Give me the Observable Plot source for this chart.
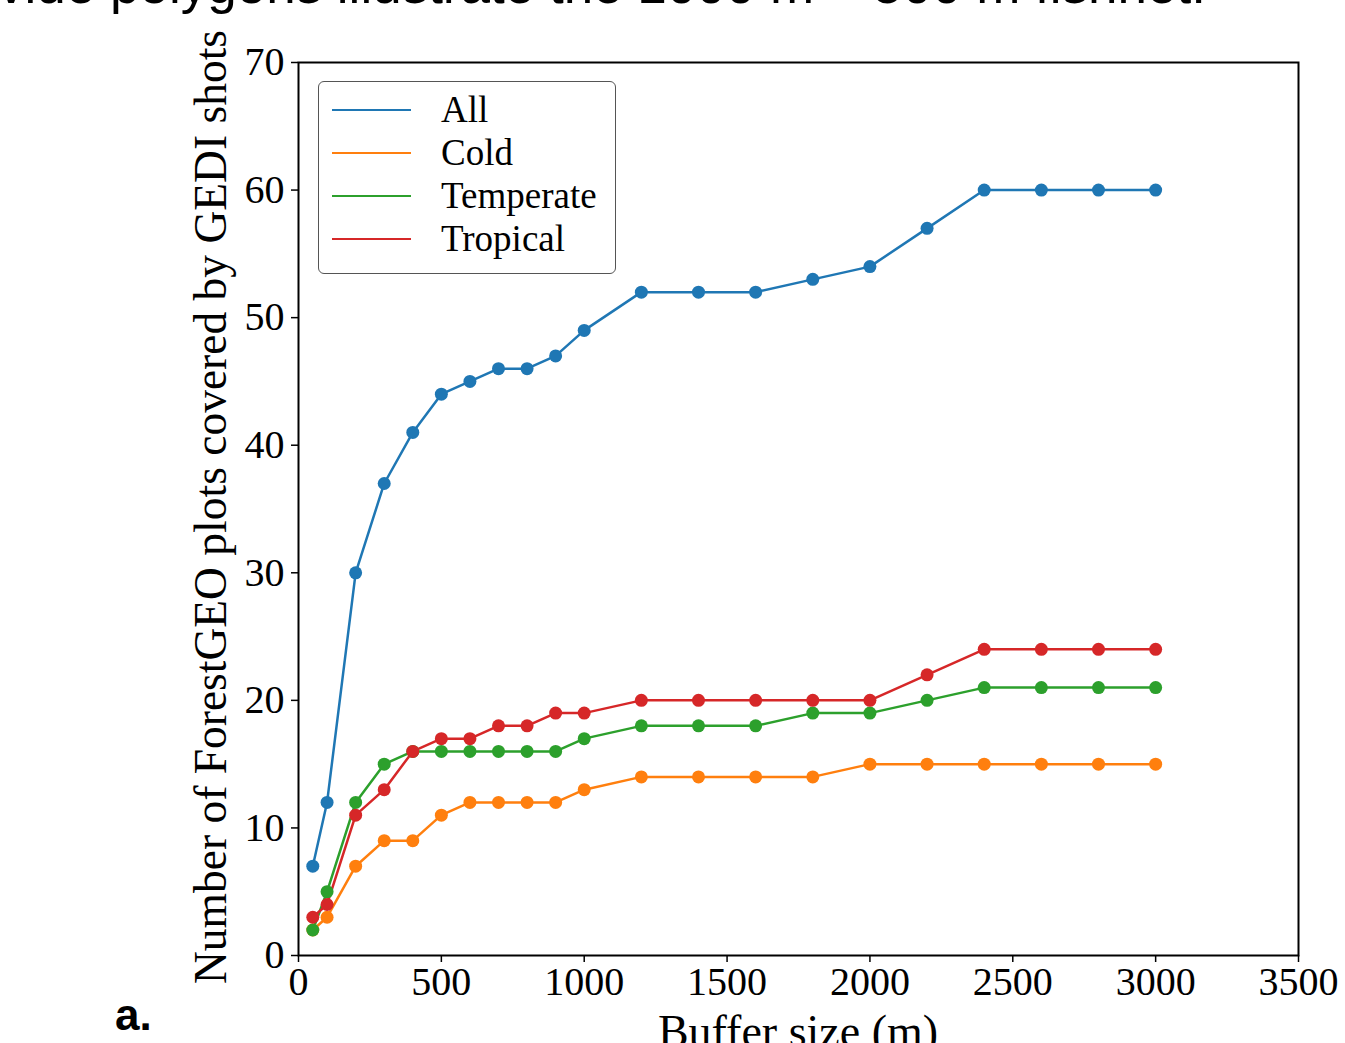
<!DOCTYPE html>
<html>
<head>
<meta charset="utf-8">
<script src="https://cdn.jsdelivr.net/npm/d3@7"></script>
<script src="https://cdn.jsdelivr.net/npm/@observablehq/plot@0.6"></script>
<style>
  html, body { margin: 0; padding: 0; background: #fff; }
  #wrap { position: relative; width: 1345px; height: 1043px; overflow: hidden; background: #fff; }
  #wrap svg { position: absolute; left: 0; top: 0; }
  .abs { position: absolute; white-space: nowrap; }
  #title { font-family: "Liberation Sans", Arial, sans-serif; font-size: 53px; line-height: 1; left: -2px; top: -42px; color: #000; }
  #tag { font-family: "Liberation Sans", Arial, sans-serif; font-weight: bold; font-size: 44px; line-height: 1; left: 115px; top: 993px; }
  #xlabel { font-family: "Liberation Serif", "Times New Roman", serif; font-size: 46px; line-height: 1; left: 798px; top: 1009px; transform: translateX(-50%); }
  #ylabel { font-family: "Liberation Serif", "Times New Roman", serif; font-size: 45.5px; line-height: 1; left: 211px; top: 507px; transform: translate(-50%, -50%) rotate(-90deg); }
  #legend { left: 318px; top: 81px; width: 298px; height: 193px; border: 1.5px solid #555; border-radius: 6px; box-sizing: border-box; background: #fff;
            font-family: "Liberation Serif", "Times New Roman", serif; font-size: 37px; }
  .row { position: absolute; left: 0; height: 43px; display: flex; align-items: center; }
  .sw { width: 79px; height: 2px; margin-left: 13px; margin-right: 30px; }
</style>
</head>
<body>
<div id="wrap">
  <div id="title" class="abs">vide polygons illustrate the 1000 m – 500 m fishnet.</div>
  <div id="tag" class="abs">a.</div>
  <div id="xlabel" class="abs">Buffer size (m)</div>
  <div id="ylabel" class="abs">Number of ForestGEO plots covered by GEDI shots</div>
  <div id="legend" class="abs"></div>
</div>
<script>
const bufferSizes = [50, 100, 200, 300, 400, 500, 600, 700, 800, 900, 1000, 1200, 1400, 1600, 1800, 2000, 2200, 2400, 2600, 2800, 3000];
const allCounts =       [7, 12, 30, 37, 41, 44, 45, 46, 46, 47, 49, 52, 52, 52, 53, 54, 57, 60, 60, 60, 60];
const coldCounts =      [2, 3, 7, 9, 9, 11, 12, 12, 12, 12, 13, 14, 14, 14, 14, 15, 15, 15, 15, 15, 15];
const temperateCounts = [2, 5, 12, 15, 16, 16, 16, 16, 16, 16, 17, 18, 18, 18, 19, 19, 20, 21, 21, 21, 21];
const tropicalCounts =  [3, 4, 11, 13, 16, 17, 17, 18, 18, 19, 19, 20, 20, 20, 20, 20, 22, 24, 24, 24, 24];
const seriesNames = ["All", "Cold", "Temperate", "Tropical"];
const seriesColors = ["#1f77b4", "#ff7f0e", "#2ca02c", "#d62728"];
const xTicks = [0, 500, 1000, 1500, 2000, 2500, 3000, 3500];
const yTicks = [0, 10, 20, 30, 40, 50, 60, 70];

const seriesValues = [allCounts, coldCounts, temperateCounts, tropicalCounts];
const data = [];
seriesNames.forEach((name, i) => {
  bufferSizes.forEach((b, j) => data.push({series: name, buffer: b, count: seriesValues[i][j]}));
});

const chart = Plot.plot({
  width: 1345,
  height: 1043,
  marginLeft: 298,
  marginRight: 47,
  marginTop: 62,
  marginBottom: 88,
  style: {fontFamily: "'Liberation Serif', 'Times New Roman', serif", fontSize: "40px", color: "#000", background: "transparent"},
  x: {domain: [0, 3500], ticks: xTicks, tickFormat: d3.format("d"), tickSize: 7, tickPadding: 4, label: null},
  y: {domain: [0, 70], ticks: yTicks, tickFormat: d3.format("d"), tickSize: 7, tickPadding: 7, label: null},
  color: {domain: seriesNames, range: seriesColors},
  marks: [
    Plot.line(data, {x: "buffer", y: "count", z: "series", stroke: "series", strokeWidth: 2.5}),
    Plot.dot(data, {x: "buffer", y: "count", fill: "series", r: 6.5}),
    Plot.frame({stroke: "#000", strokeWidth: 2})
  ]
});
chart.querySelectorAll("g[aria-label='x-axis tick'] path, g[aria-label='y-axis tick'] path").forEach(p => p.setAttribute("stroke-width", 1.5));
document.getElementById("wrap").prepend(chart);

const legend = document.getElementById("legend");
seriesNames.forEach((name, i) => {
  const row = document.createElement("div");
  row.className = "row";
  row.style.top = (6 + i * 43) + "px";
  row.innerHTML = `<div class="sw" style="background:${seriesColors[i]}"></div><span>${name}</span>`;
  legend.appendChild(row);
});
</script>
</body>
</html>
